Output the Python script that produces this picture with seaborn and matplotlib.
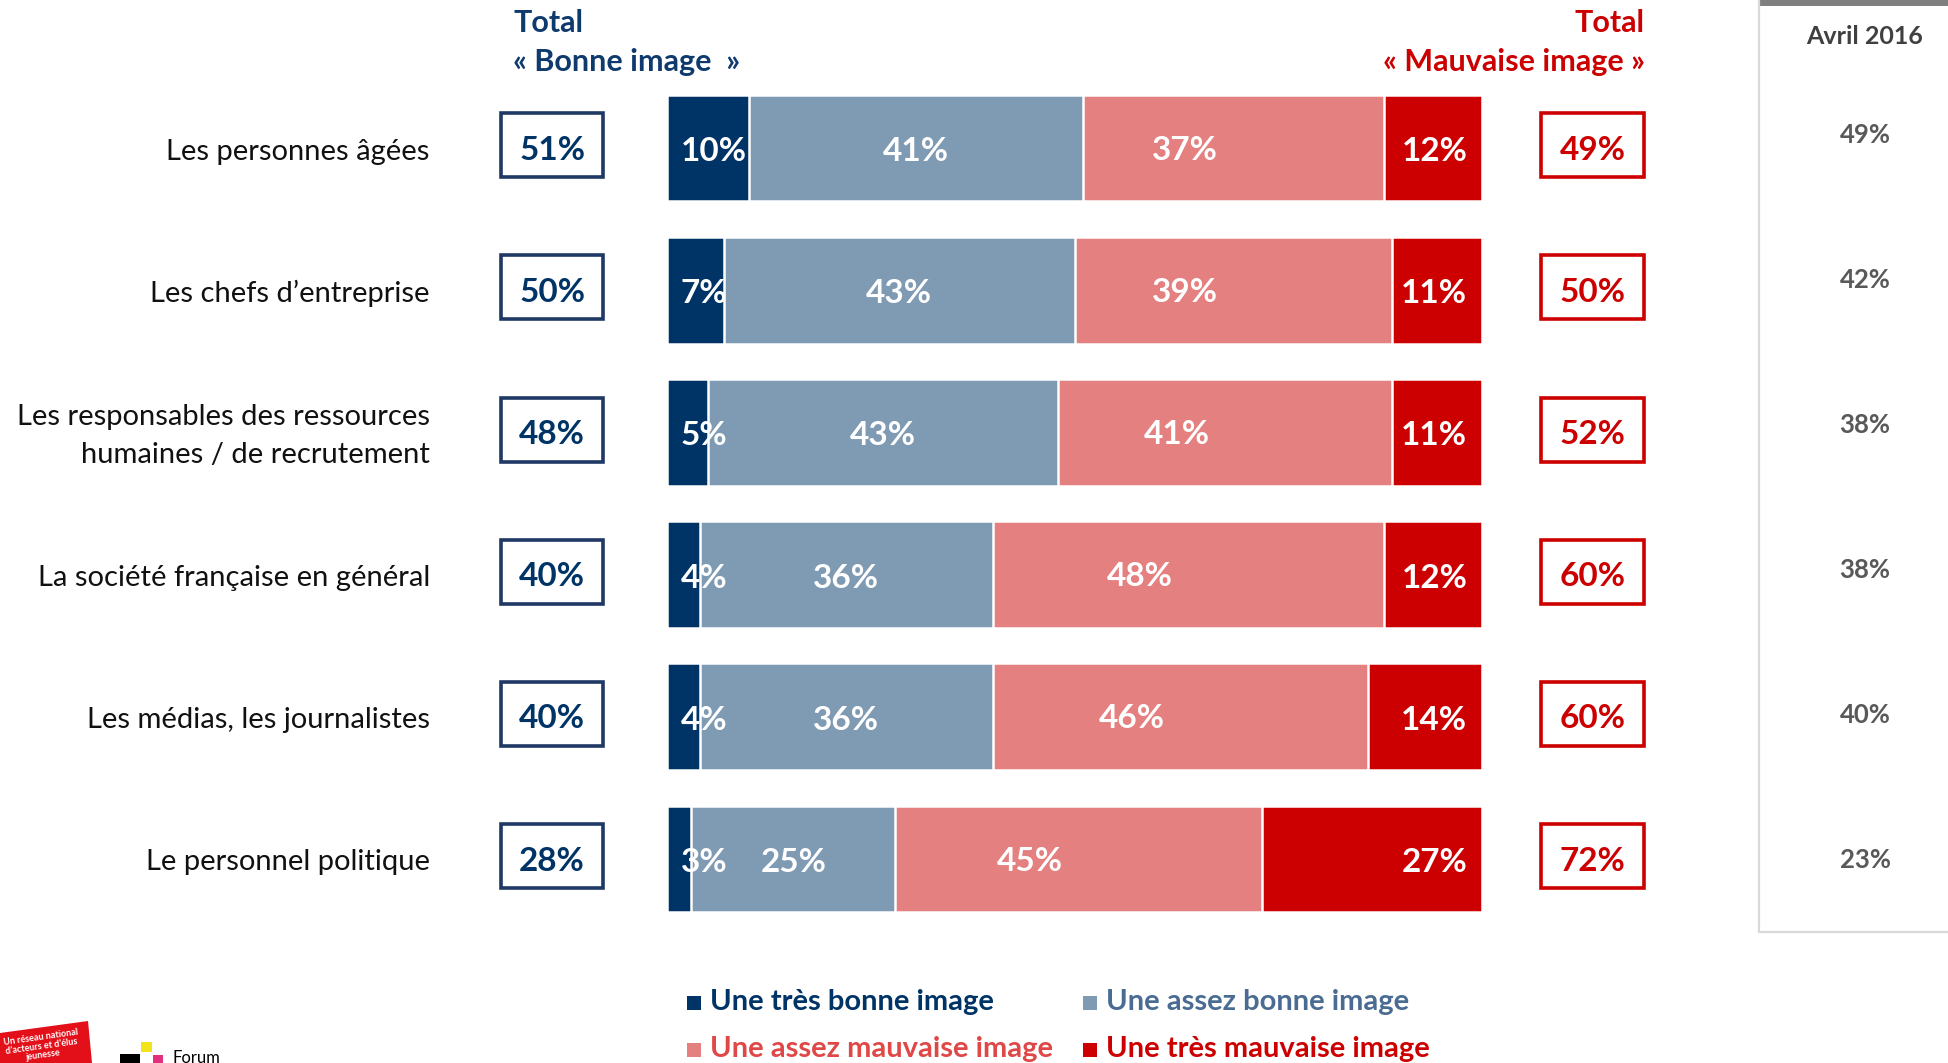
import matplotlib
matplotlib.use("Agg")
import matplotlib.pyplot as plt
from matplotlib.patches import Rectangle, Polygon
from matplotlib.lines import Line2D
import pandas as pd
import seaborn as sns

# ---- data -------------------------------------------------------------
categories = [
    "Les personnes âgées",
    "Les chefs d’entreprise",
    "Les responsables des ressources\nhumaines / de recrutement",
    "La société française en général",
    "Les médias, les journalistes",
    "Le personnel politique",
]
tres_bonne = [10, 7, 5, 4, 4, 3]
assez_bonne = [41, 43, 43, 36, 36, 25]
assez_mauvaise = [37, 39, 41, 48, 46, 45]
tres_mauvaise = [12, 11, 11, 12, 14, 27]
total_bonne = [51, 50, 48, 40, 40, 28]
total_mauvaise = [49, 50, 52, 60, 60, 72]
avril_2016 = [49, 42, 38, 38, 40, 23]
series_names = ["Une très bonne image", "Une assez bonne image",
                "Une assez mauvaise image", "Une très mauvaise image"]

# ---- styling ----------------------------------------------------------
NAVY = "#003366"
STEEL = "#7F9AB3"
PINK = "#E48080"
RED = "#CC0000"
GREY_TXT = "#595959"
seg_colors = [NAVY, STEEL, PINK, RED]
legend_txt_colors = [NAVY, "#4A6C92", "#E04848", RED]

sns.set_theme(style="white")
plt.rcParams["font.family"] = ["Lato", "DejaVu Sans"]

W, H = 1949, 1063
fig = plt.figure(figsize=(W / 100, H / 100), dpi=100)

# axes holding the stacked bars (pixel geometry -> figure fractions)
x0, x1 = 667, 1482
y_top, y_bot = 77, 930
ax = fig.add_axes([x0 / W, 1 - y_bot / H, (x1 - x0) / W, (y_bot - y_top) / H])

segments = [tres_bonne, assez_bonne, assez_mauvaise, tres_mauvaise]
cum = []
run = [0] * len(categories)
for seg in segments:
    run = [r + s for r, s in zip(run, seg)]
    cum.append(list(run))

# overlay cumulative bars, widest first, so each segment shows through
for k in range(3, -1, -1):
    df = pd.DataFrame({"categorie": categories, "cumul": cum[k]})
    sns.barplot(data=df, x="cumul", y="categorie", order=categories,
                color=seg_colors[k], saturation=1, width=0.75,
                edgecolor="white", linewidth=1.8, errorbar=None, ax=ax)

ax.set_xlim(0, 100)
ax.set_ylim(len(categories) - 0.5, -0.5)
ax.set_xlabel("")
ax.set_ylabel("")
ax.set_xticks([])
ax.set_yticks([])
for sp in ax.spines.values():
    sp.set_visible(False)

dy = 0.025  # small downward nudge so glyphs sit on the bar centre
lab_kw = dict(color="white", fontsize=24, fontweight="bold", va="center")
for i in range(len(categories)):
    yc = i + dy
    starts = [0, cum[0][i], cum[1][i], cum[2][i]]
    # very good: anchored near the bar start
    ax.text(1.7, yc, f"{tres_bonne[i]}%", ha="left", **lab_kw)
    # fairly good: centred in its segment
    ax.text(starts[1] + assez_bonne[i] / 2, yc, f"{assez_bonne[i]}%",
            ha="center", **lab_kw)
    # fairly bad: a little left of its segment centre
    ax.text(starts[2] + assez_mauvaise[i] / 2 - 6, yc - 0.01,
            f"{assez_mauvaise[i]}%", ha="center", **lab_kw)
    # very bad: anchored near the bar end
    ax.text(98.2, yc, f"{tres_mauvaise[i]}%", ha="right", **lab_kw)

    # category names
    ax.text(-29.1, yc, categories[i], ha="right", va="center",
            multialignment="right", fontsize=21, color="#111111",
            linespacing=1.6)

    # total boxes
    box_h = 0.45
    ax.add_patch(Rectangle((-20.4, i - 0.02 - box_h / 2), 12.6, box_h,
                           facecolor="white", edgecolor="#1F3864", lw=2.6,
                           clip_on=False))
    ax.text(-14.1, yc - 0.01, f"{total_bonne[i]}%", ha="center", va="center",
            fontsize=24, fontweight="bold", color=NAVY)
    ax.add_patch(Rectangle((107.3, i - 0.02 - box_h / 2), 12.6, box_h,
                           facecolor="white", edgecolor=RED, lw=2.6,
                           clip_on=False))
    ax.text(113.6, yc - 0.01, f"{total_mauvaise[i]}%", ha="center",
            va="center", fontsize=24, fontweight="bold", color=RED)

    # April 2016 comparison column
    ax.text(147.0, i - 0.09 + 0.02 * i, f"{avril_2016[i]}%", ha="center",
            va="center", fontsize=18.5, fontweight="bold", color=GREY_TXT)

# column headers
fig.text(513 / W, 1 - 23 / H, "Total", ha="left", va="center",
         fontsize=22, fontweight="bold", color="#0E3A6E")
fig.text(513 / W, 1 - 62 / H, "« Bonne image  »", ha="left", va="center",
         fontsize=22, fontweight="bold", color="#0E3A6E")
fig.text(1645 / W, 1 - 23 / H, "Total", ha="right", va="center",
         fontsize=22, fontweight="bold", color=RED)
fig.text(1645 / W, 1 - 62 / H, "« Mauvaise image »", ha="right", va="center",
         fontsize=22, fontweight="bold", color=RED)

# right-hand panel frame
px = 1759 / W
py = 1 - 932 / H
fig.add_artist(Line2D([px, px], [1, py], transform=fig.transFigure,
                      color="#D9D9D9", lw=1.6))
fig.add_artist(Line2D([px, 1], [py, py], transform=fig.transFigure,
                      color="#D9D9D9", lw=1.6))
fig.add_artist(Rectangle((px, 1 - 6 / H), 1 - px, 6 / H,
                         transform=fig.transFigure, color="#7F7F7F", lw=0))
fig.text(1865 / W, 1 - 36 / H, "Avril 2016", ha="center", va="center",
         fontsize=18, fontweight="bold", color="#404040")

# legend
leg_pos = [(687, 1002), (1083, 1002), (687, 1049), (1083, 1049)]
for (lx, ly), name, c, tc in zip(leg_pos, series_names, seg_colors,
                                 legend_txt_colors):
    fig.add_artist(Rectangle((lx / W, 1 - (ly + 8) / H), 14 / W, 14 / H,
                             transform=fig.transFigure, color=c, lw=0))
    fig.text((lx + 23) / W, 1 - ly / H, name, ha="left", va="center",
             fontsize=21, fontweight="bold", color=tc)

# footer logos
fig.add_artist(Polygon([(0, 1 - 1033 / H), (88 / W, 1 - 1021 / H),
                        (92 / W, 0), (0, 0)], closed=True,
                       transform=fig.transFigure, color="#E3101A", lw=0))
fig.text(42 / W, 1 - 1046 / H, "Un réseau national\nd’acteurs et d’élus\njeunesse",
         ha="center", va="center", fontsize=6.5, fontweight="bold",
         color="white", rotation=8, linespacing=1.0)
fig.add_artist(Rectangle((120 / W, 0), 20 / W, 9 / H,
                         transform=fig.transFigure, color="black", lw=0))
fig.add_artist(Rectangle((141 / W, 1 - 1052 / H), 11 / W, 10 / H,
                         transform=fig.transFigure, color="#F2E31B", lw=0))
fig.add_artist(Rectangle((153 / W, 0), 10 / W, 8 / H,
                         transform=fig.transFigure, color="#E0307E", lw=0))
fig.text(173 / W, 1 - 1050 / H, "Forum", ha="left", va="top",
         fontsize=12, color="black")

fig.savefig("out.png", dpi=100, facecolor="white")
